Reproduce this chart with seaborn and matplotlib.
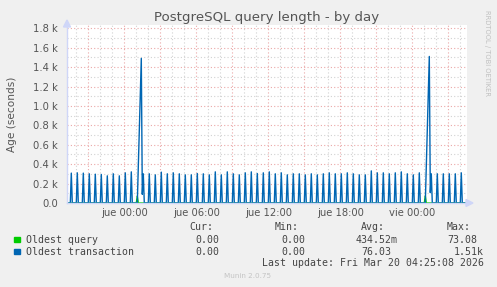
import numpy as np
import pandas as pd
import matplotlib
matplotlib.use("Agg")
import matplotlib.pyplot as plt
import seaborn as sns
from matplotlib.ticker import MultipleLocator, FuncFormatter
from matplotlib.patches import Polygon

# ---------------- data ----------------
sample_start = "2026-03-18 19:15"
sample_end = "2026-03-20 04:30"
day_zero = "2026-03-19 00:00"

# regular half-hourly spikes of "Oldest transaction" (seconds)
txn_spike_start = "2026-03-18 19:35"
txn_spike_ages = [308, 311, 308, 301, 297, 294, 280, 301, 280, 311,
                  321, 0, 301, 301, 290, 318, 301, 311, 301, 290,
                  290, 304, 301, 290, 321, 290, 321, 301, 290, 311,
                  321, 304, 311, 321, 301, 311, 290, 301, 301, 290,
                  301, 290, 301, 311, 301, 301, 311, 301, 290, 290,
                  331, 311, 311, 301, 311, 321, 301, 290, 311, 0,
                  301, 301, 301, 301, 301, 311]
# long-running transaction ramps (daily job)
txn_ramp_times = ["2026-03-19 01:10", "2026-03-19 01:15", "2026-03-19 01:20",
                  "2026-03-19 01:25", "2026-03-19 01:30",
                  "2026-03-20 01:10", "2026-03-20 01:15", "2026-03-20 01:20",
                  "2026-03-20 01:25", "2026-03-20 01:30"]
txn_ramp_ages = [370, 740, 1120, 1490, 90,
                 380, 760, 1140, 1510, 107]

query_spike_times = ["2026-03-19 01:05", "2026-03-20 01:05"]
query_spike_ages = [70.0, 73.08]

series_names = ["Oldest query", "Oldest transaction"]
series_colors = ["#00cc00", "#0066b3"]
x_tick_labels = {0: "jue 00:00", 6: "jue 06:00", 12: "jue 12:00",
                 18: "jue 18:00", 24: "vie 00:00"}
y_ticks = [0, 200, 400, 600, 800, 1000, 1200, 1400, 1600, 1800]
y_tick_labels = ["0.0", "0.2 k", "0.4 k", "0.6 k", "0.8 k", "1.0 k",
                 "1.2 k", "1.4 k", "1.6 k", "1.8 k"]
stats_cur = ["0.00", "0.00"]
stats_min = ["0.00", "0.00"]
stats_avg = ["434.52m", "76.03"]
stats_max = ["73.08", "1.51k"]

# ---------------- build series ----------------
idx = pd.date_range(sample_start, sample_end, freq="5min")
txn = pd.Series(0.0, index=idx)
spike_idx = pd.date_range(txn_spike_start, periods=len(txn_spike_ages), freq="30min")
txn.loc[spike_idx] = txn_spike_ages
txn.loc[pd.to_datetime(txn_ramp_times)] = txn_ramp_ages
qry = pd.Series(0.0, index=idx)
qry.loc[pd.to_datetime(query_spike_times)] = query_spike_ages

hours = (idx - pd.Timestamp(day_zero)) / pd.Timedelta(hours=1)
df = pd.concat([
    pd.DataFrame({"h": hours, "v": qry.values, "s": series_names[0]}),
    pd.DataFrame({"h": hours, "v": txn.values, "s": series_names[1]}),
])

# ---------------- figure ----------------
sns.set_style("white")
plt.rcParams["font.family"] = ["DejaVu Sans"]
W, H = 497, 287
fig = plt.figure(figsize=(W / 100, H / 100), dpi=100, facecolor="#f0f0f0")
ax_l, ax_r, ax_t, ax_b = 67, 467, 25, 203
ax = fig.add_axes([ax_l / W, 1 - ax_b / H, (ax_r - ax_l) / W, (ax_b - ax_t) / H])
ax.set_facecolor("white")

sns.lineplot(data=df, x="h", y="v", hue="s", hue_order=series_names,
             palette=series_colors, linewidth=1.0, legend=False, ax=ax,
             estimator=None, sort=False)

x0 = -4.75 - 0.3 / 12
ax.set_xlim(x0, x0 + 400 / 12)
ax.set_ylim(0, 1834)

red = "#eba8a8"
gray = "#d2d2d2"
ax.xaxis.set_major_locator(MultipleLocator(3))
ax.xaxis.set_minor_locator(MultipleLocator(1))
ax.xaxis.set_major_formatter(FuncFormatter(
    lambda v, p: x_tick_labels.get(int(round(v)), "") if abs(v - round(v)) < 1e-6 else ""))
ax.set_yticks(y_ticks)
ax.set_yticklabels(y_tick_labels)
ax.yaxis.set_minor_locator(MultipleLocator(100))
ax.grid(which="major", color=red, linestyle=(0, (1, 2)), linewidth=0.8)
ax.grid(which="minor", color=gray, linestyle=(0, (1, 2)), linewidth=0.8)
ax.set_axisbelow(True)
ax.tick_params(which="both", length=0, colors="#555555", labelsize=7.2)
ax.tick_params(axis="y", pad=6.5)
ax.tick_params(axis="x", pad=3.5)
ax.set_xlabel("")
ax.set_ylabel("Age (seconds)", fontsize=7.6, color="#555555", labelpad=4)
ax.yaxis.set_label_coords(-50 / 400, 0.5)

axis_col = "#cfd6f8"
for s in ["top", "right"]:
    ax.spines[s].set_visible(False)
for s in ["left", "bottom"]:
    ax.spines[s].set_color(axis_col)
    ax.spines[s].set_linewidth(1.0)

# axis arrows (decoration)
def fx(px):
    return px / W
def fy(py):
    return 1 - py / H
fig.patches.append(Polygon([[fx(63.5), fy(27)], [fx(70.5), fy(27)], [fx(67), fy(20)]],
                           closed=True, transform=fig.transFigure, color=axis_col))
fig.patches.append(Polygon([[fx(466), fy(199.5)], [fx(466), fy(206.5)], [fx(473), fy(203)]],
                           closed=True, transform=fig.transFigure, color=axis_col))

# title
fig.text(267 / W, fy(18), "PostgreSQL query length - by day", ha="center", va="center",
         fontsize=9.6, color="#555555")
fig.text(fx(487), fy(53), "RRDTOOL / TOBI OETIKER", rotation=270, ha="center", va="center",
         fontsize=4.9, color="#c0c0c0")

# legend / stats
mono = "DejaVu Sans Mono"
fs = 7.1
tc = "#444444"
fig.text(fx(213.5), fy(227.5), "Cur:", ha="right", va="center", family=mono, fontsize=fs, color=tc)
fig.text(fx(299), fy(227.5), "Min:", ha="right", va="center", family=mono, fontsize=fs, color=tc)
fig.text(fx(385), fy(227.5), "Avg:", ha="right", va="center", family=mono, fontsize=fs, color=tc)
fig.text(fx(471), fy(227.5), "Max:", ha="right", va="center", family=mono, fontsize=fs, color=tc)
rows_y = [239.7, 251.7]
avg_right = [397.5, 391.5]
max_right = [477.5, 483.5]
for i, name in enumerate(series_names):
    y = rows_y[i]
    fig.patches.append(plt.Rectangle((fx(14), fy(y + 2.6)), 5.5 / W, 5.5 / H,
                                     transform=fig.transFigure, color=series_colors[i]))
    fig.text(fx(26), fy(y), name, ha="left", va="center", family=mono, fontsize=fs, color=tc)
    fig.text(fx(219.5), fy(y), stats_cur[i], ha="right", va="center", family=mono, fontsize=fs, color=tc)
    fig.text(fx(305.5), fy(y), stats_min[i], ha="right", va="center", family=mono, fontsize=fs, color=tc)
    fig.text(fx(avg_right[i]), fy(y), stats_avg[i], ha="right", va="center", family=mono, fontsize=fs, color=tc)
    fig.text(fx(max_right[i]), fy(y), stats_max[i], ha="right", va="center", family=mono, fontsize=fs, color=tc)
fig.text(fx(483.5), fy(263.5), "Last update: Fri Mar 20 04:25:08 2026", ha="right", va="center",
         family=mono, fontsize=fs, color=tc)
fig.text(fx(248), fy(276), "Munin 2.0.75", ha="center", va="center", fontsize=5.2, color="#c4c4c4")

fig.savefig("out.png", dpi=100, facecolor=fig.get_facecolor())
